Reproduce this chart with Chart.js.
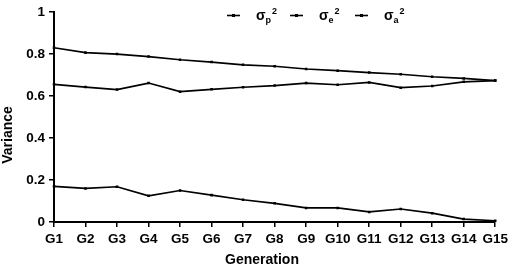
<!DOCTYPE html>
<html>
<head>
<meta charset="utf-8">
<script src="https://cdn.jsdelivr.net/npm/chart.js@4/dist/chart.umd.min.js"></script>
<style>
html,body{margin:0;padding:0;background:#fff;}
#wrap{width:512px;height:269px;position:relative;}
</style>
</head>
<body>
<div id="wrap"><canvas id="c" width="512" height="269"></canvas></div>
<script>
const categories = ["G1","G2","G3","G4","G5","G6","G7","G8","G9","G10","G11","G12","G13","G14","G15"];
const sigmaP = [0.830,0.807,0.800,0.788,0.773,0.762,0.749,0.742,0.729,0.721,0.712,0.704,0.692,0.684,0.674];
const sigmaE = [0.656,0.643,0.631,0.662,0.621,0.632,0.642,0.650,0.662,0.654,0.665,0.640,0.648,0.668,0.674];
const sigmaA = [0.170,0.160,0.168,0.125,0.150,0.128,0.106,0.089,0.067,0.067,0.048,0.062,0.042,0.014,0.006];
const yTicks = [0,0.2,0.4,0.6,0.8,1];
const legendItems = [
  {base:"σ", sub:"p", sup:"2"},
  {base:"σ", sub:"e", sup:"2"},
  {base:"σ", sub:"a", sup:"2"}
];
const xTitle = "Generation";
const yTitle = "Variance";

const FONT = "'Liberation Sans', Arial, sans-serif";

const decorPlugin = {
  id: 'decor',
  afterDraw(chart) {
    const ctx = chart.ctx;
    const xs = [227, 290, 355];
    const y = 15.5;
    ctx.save();
    ctx.strokeStyle = '#000';
    ctx.fillStyle = '#000';
    legendItems.forEach((it, i) => {
      const x0 = xs[i];
      ctx.lineWidth = 1.6;
      ctx.beginPath();
      ctx.moveTo(x0, y);
      ctx.lineTo(x0 + 13, y);
      ctx.stroke();
      ctx.fillRect(x0 + 5, y - 1.5, 3, 3);
      let tx = x0 + 29;
      ctx.textBaseline = 'alphabetic';
      ctx.textAlign = 'left';
      ctx.font = "bold 14px " + FONT;
      ctx.fillText(it.base, tx, y + 4);
      tx += ctx.measureText(it.base).width;
      ctx.font = "bold 9px " + FONT;
      ctx.fillText(it.sub, tx, y + 7);
      const sw = ctx.measureText(it.sub).width;
      ctx.fillText(it.sup, tx + sw + 1, y - 2);
    });
    // axis titles
    ctx.font = "bold 14px " + FONT;
    ctx.textAlign = 'center';
    ctx.textBaseline = 'middle';
    ctx.fillText(xTitle, 262, 260);
    ctx.save();
    ctx.translate(8.5, 135);
    ctx.rotate(-Math.PI / 2);
    ctx.font = "bold 14px " + FONT;
    ctx.fillText(yTitle, 0, 0);
    ctx.restore();
    ctx.restore();
  }
};

const ds = (label, data) => ({
  label, data,
  borderColor: '#000', backgroundColor: '#000',
  borderWidth: 1.7, pointStyle: 'rect', pointRadius: 1.8,
  pointBorderWidth: 0, tension: 0
});

new Chart(document.getElementById('c'), {
  type: 'line',
  data: {
    labels: categories,
    datasets: [ds('σp²', sigmaP), ds('σe²', sigmaE), ds('σa²', sigmaA)]
  },
  options: {
    responsive: false,
    animation: false,
    events: [],
    layout: { padding: { top: 8, right: 16, left: 0, bottom: 0 } },
    plugins: { legend: { display: false }, tooltip: { enabled: false } },
    scales: {
      x: {
        offset: false,
        border: { display: true, color: '#000', width: 2 },
        grid: { display: true, drawOnChartArea: false, color: '#000', tickLength: 5, lineWidth: 1.5 },
        ticks: { color: '#000', font: { family: FONT, size: 13.5, weight: 'bold' }, padding: 4, maxRotation: 0, autoSkip: false },
        afterFit(s) { s.height = 47; }
      },
      y: {
        min: 0, max: 1,
        afterBuildTicks(s) { s.ticks = yTicks.map(v => ({ value: v })); },
        border: { display: true, color: '#000', width: 2 },
        grid: { display: true, drawOnChartArea: false, color: '#000', tickLength: 5, lineWidth: 1.5 },
        ticks: { color: '#000', font: { family: FONT, size: 13.5, weight: 'bold' }, padding: 4,
          callback: v => String(v) },
        afterFit(s) { s.width = 54; }
      }
    }
  },
  plugins: [decorPlugin]
});
</script>
</body>
</html>
